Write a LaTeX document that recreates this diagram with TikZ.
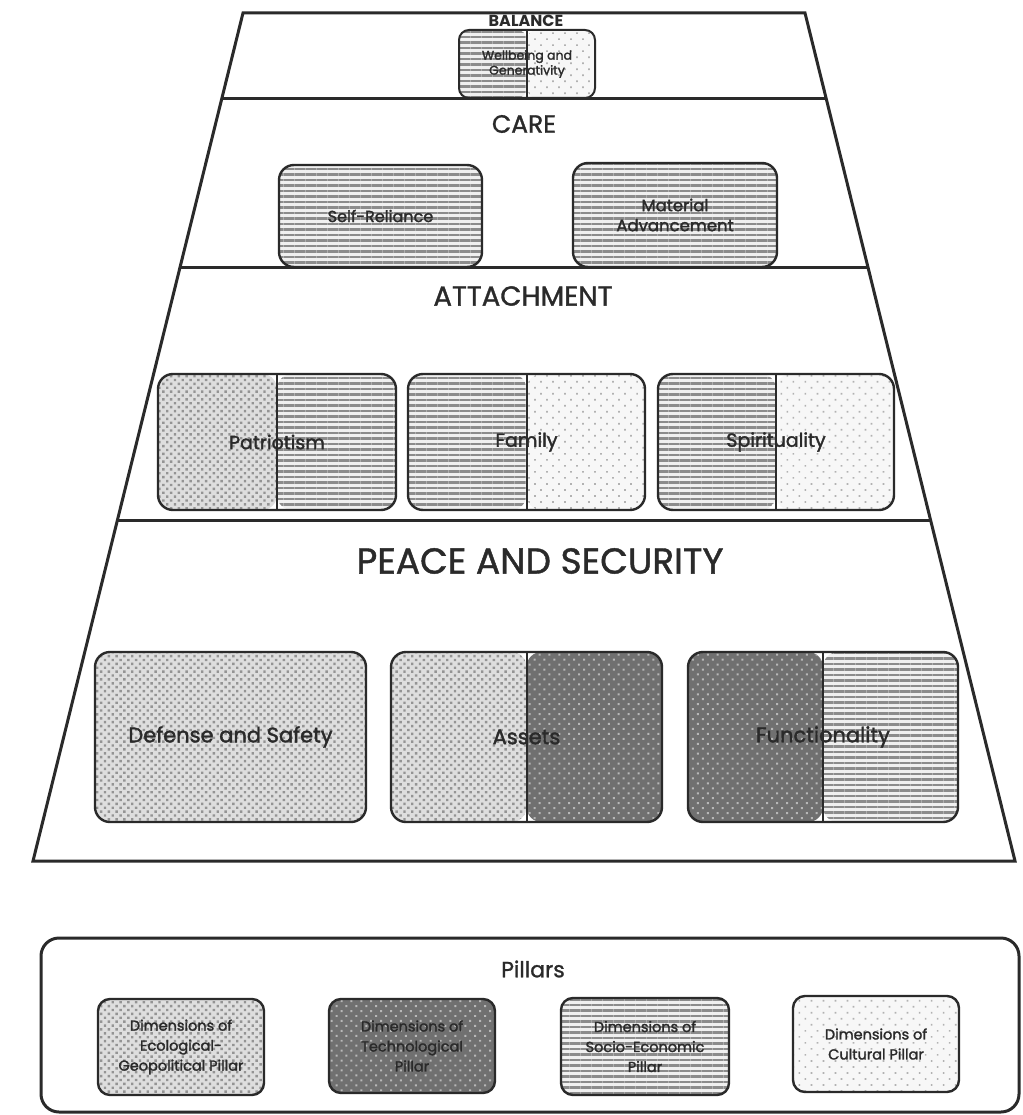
\documentclass[tikz,border=0pt]{standalone}
\usepackage{fontspec}
\setmainfont{Poppins}
\newfontfamily\medfont{Poppins}[FakeBold=1.2]
\newfontfamily\lblfont{Poppins}[FakeBold=1.8]
\usetikzlibrary{patterns.meta,calc}
\definecolor{ink}{HTML}{2A2A2A}
\begin{document}
\begin{tikzpicture}[x=1pt,y=-1pt,
  patEco/.style={preaction={fill=black!13}, pattern={Dots[distance=5.5pt,angle=45,radius=1.7pt]}, pattern color=black!42},
  patTech/.style={preaction={fill=black!56}, pattern={Dots[distance=7pt,angle=45,radius=1.4pt]}, pattern color=black!28},
  patSocio/.style={preaction={fill=black!6}, pattern={Lines[angle=0,distance=5.5pt,line width=2.3pt]}, pattern color=black!45},
  patCult/.style={preaction={fill=black!3}, pattern={Dots[distance=8.5pt,angle=45,radius=1.2pt]}, pattern color=black!30},
  pbox/.style={draw=ink, line width=2.4pt, rounded corners=15pt, text=ink, align=center, inner sep=0pt},
  whole/.style={path picture={\path[#1] (path picture bounding box.north west) rectangle (path picture bounding box.south east);}},
  split/.style 2 args={path picture={
      \path[#1] (path picture bounding box.north west) rectangle (path picture bounding box.south);
      \path[#2] (path picture bounding box.north) rectangle (path picture bounding box.south east);
      \draw[ink, line width=2pt] (path picture bounding box.north) -- (path picture bounding box.south);}},
  frame/.style={draw=ink, line width=3pt},
  title/.style={text=ink, inner sep=0pt}
]
\useasboundingbox (0,0) rectangle (1022,1115);
\fill[white] (0,0) rectangle (1022,1115);

% pyramid outline
\coordinate (tl) at (243,13);
\coordinate (tr) at (805,13);
\coordinate (bl) at (33,861);
\coordinate (br) at (1015,861);
\draw[frame, line join=miter] (tl) -- (tr) -- (br) -- (bl) -- cycle;
\draw[frame] ($(tl)!0.1014!(bl)$) -- ($(tr)!0.1014!(br)$);
\draw[frame] ($(tl)!0.3007!(bl)$) -- ($(tr)!0.3007!(br)$);
\draw[frame] ($(tl)!0.5979!(bl)$) -- ($(tr)!0.5979!(br)$);

% BALANCE level
\node[title, font=\bfseries\fontsize{16}{18}\selectfont] (balance) at (526,21) {BALANCE};
\node[pbox, split={patSocio}{patCult}, minimum width=136, minimum height=68, rounded corners=10pt, line width=2pt, font=\lblfont\fontsize{12.5}{15}\selectfont] (wellbeing) at (527,64) {Wellbeing and\\Generativity};

% CARE level
\node[title, font=\medfont\fontsize{25}{30}\selectfont] (care) at (524,124) {CARE};
\node[pbox, whole=patSocio, minimum width=203, minimum height=102, font=\lblfont\fontsize{16}{19}\selectfont] (selfrel) at (380.5,216) {Self-Reliance};
\node[pbox, whole=patSocio, minimum width=204, minimum height=104, font=\lblfont\fontsize{16.5}{20}\selectfont] (material) at (675,215) {Material\\Advancement};

% ATTACHMENT level
\node[title, font=\medfont\fontsize{27.5}{32}\selectfont] (attach) at (523,296) {ATTACHMENT};
\node[pbox, split={patEco}{patSocio}, minimum width=238, minimum height=136, font=\lblfont\fontsize{19}{22}\selectfont] (patriot) at (277,442) {Patriotism};
\node[pbox, split={patSocio}{patCult}, minimum width=237, minimum height=136, font=\lblfont\fontsize{19}{22}\selectfont] (family) at (526.5,442) {Family};
\node[pbox, split={patSocio}{patCult}, minimum width=236, minimum height=136, font=\lblfont\fontsize{19}{22}\selectfont] (spirit) at (776,442) {Spirituality};

% PEACE AND SECURITY level
\node[title, font=\medfont\fontsize{36}{42}\selectfont] (peace) at (540,561) {PEACE AND SECURITY};
\node[pbox, whole=patEco, minimum width=271, minimum height=170, font=\lblfont\fontsize{21}{24}\selectfont] (defense) at (230.5,737) {Defense and Safety};
\node[pbox, split={patEco}{patTech}, minimum width=271, minimum height=170, font=\lblfont\fontsize{21}{24}\selectfont] (assets) at (526.5,737) {Assets};
\node[pbox, split={patTech}{patSocio}, minimum width=270, minimum height=170, font=\lblfont\fontsize{21}{24}\selectfont] (func) at (823,737) {Functionality};

% Legend
\node[draw=ink, line width=3pt, rounded corners=18pt, minimum width=978, minimum height=174, inner sep=0pt] (legend) at (530,1025) {};
\node[title, font=\medfont\fontsize{22}{26}\selectfont] (pillars) at (533,969) {Pillars};
\node[pbox, whole=patEco, minimum width=166, minimum height=96, rounded corners=12pt, font=\lblfont\fontsize{14.5}{20}\selectfont] (leco) at (181,1047) {Dimensions of\\Ecological-\\Geopolitical Pillar};
\node[pbox, whole=patTech, minimum width=166, minimum height=94, rounded corners=12pt, font=\lblfont\fontsize{14.5}{20}\selectfont] (ltech) at (412,1046) {Dimensions of\\Technological\\Pillar};
\node[pbox, whole=patSocio, minimum width=168, minimum height=97, rounded corners=12pt, font=\lblfont\fontsize{14.5}{20}\selectfont] (lsocio) at (645,1046.5) {Dimensions of\\Socio-Economic\\Pillar};
\node[pbox, whole=patCult, minimum width=166, minimum height=96, rounded corners=12pt, font=\lblfont\fontsize{14.5}{20}\selectfont] (lcult) at (876,1044) {Dimensions of\\Cultural Pillar};
\end{tikzpicture}
\end{document}
